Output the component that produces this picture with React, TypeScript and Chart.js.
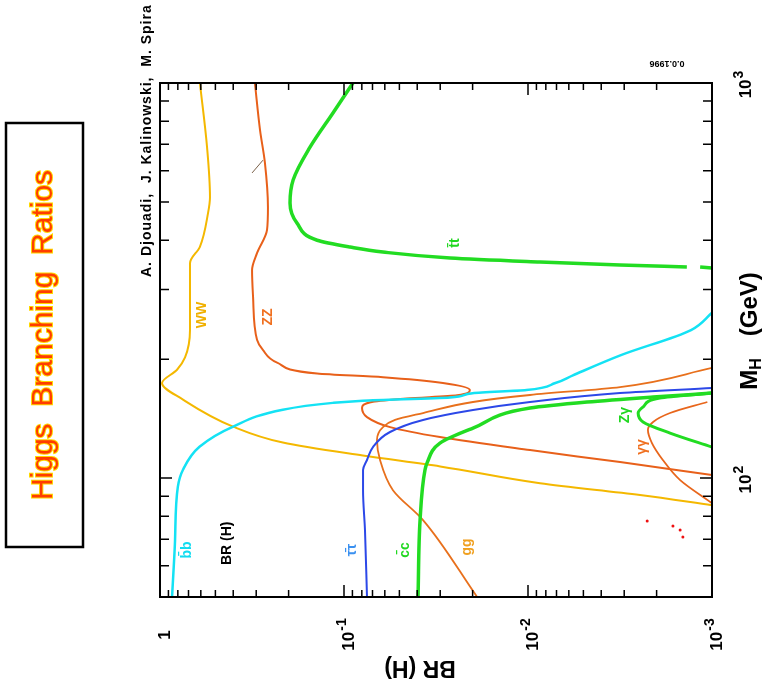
import React, { useEffect, useRef } from 'react';
import { Chart, registerables } from 'chart.js';
Chart.register(...registerables);

// ---- data (BR value, Higgs mass in GeV) ----
const BB_BR = [0.86, 0.83, 0.80, 0.75, 0.61, 0.40, 0.215, 0.115, 0.079, 0.0265, 0.020, 0.0102, 0.0071, 0.0057, 0.0031, 0.0013, 0.001];
const BB_MH = [50, 68, 95, 105, 120, 135, 149, 155, 157, 160, 164, 167, 174, 182, 205, 237, 262];

const WW_BR = [0.607, 0.555, 0.535, 0.548, 0.607, 0.687, 0.687, 0.731, 0.808, 0.975, 0.75, 0.401, 0.215, 0.079, 0.030, 0.0086, 0.00246, 0.001];
const WW_MH = [1000, 688, 514, 469, 385, 350, 237, 202, 188, 174, 158, 135, 123, 114, 107, 97, 90.6, 85.4];

const ZZ_BR = [0.305, 0.286, 0.269, 0.259, 0.262, 0.297, 0.316, 0.312, 0.297, 0.276, 0.231, 0.140, 0.0614, 0.029, 0.0207, 0.0243, 0.0455, 0.0696, 0.0798, 0.075, 0.0562, 0.0301, 0.00975, 0.00316, 0.001];
const ZZ_MH = [1000, 760, 628, 485, 425, 371, 336, 287, 224, 211, 196, 184, 180, 174, 167, 162, 159, 156, 150.4, 142.7, 134.6, 127, 117.7, 109.8, 101.8];

const GG_BR = [0.0189, 0.0372, 0.0542, 0.0637, 0.0662, 0.0614, 0.0528, 0.0372, 0.0199, 0.00975, 0.00316, 0.001];
const GG_MH = [50, 78.3, 93.2, 111.1, 124.8, 134.6, 140.3, 146.1, 155.8, 162.3, 170, 190];

const TAU_BR = [0.075, 0.0769, 0.0788, 0.0788, 0.075, 0.0696, 0.0562, 0.0372, 0.0199, 0.00975, 0.00316, 0.001];
const TAU_MH = [50, 73.8, 93.2, 104.8, 111.1, 119.8, 130.8, 140.3, 148.7, 155.8, 164.1, 169];

const CC_BR = [0.0396, 0.0386, 0.0363, 0.0354, 0.0301, 0.0199, 0.00975, 0.00478, 0.00209, 0.001];
const CC_MH = [50, 78.3, 104.8, 109.1, 122.6, 133.8, 150.4, 155.8, 160.4, 164.1];

const ZGAM_BR = [0.001, 0.00169, 0.00237, 0.00252, 0.00237, 0.00192, 0.001];
const ZGAM_MH = [119.8, 130, 138.7, 146.1, 151.3, 159.4, 164.1];

const GAMGAM_BR = [0.001, 0.00149, 0.00185, 0.00212, 0.00223, 0.00209, 0.00169, 0.00106];
const GAMGAM_MH = [86.4, 98.8, 111.1, 122.6, 132.3, 138.7, 146.1, 155.8];

const TT_BR = [0.0894, 0.1148, 0.153, 0.189, 0.1965, 0.18, 0.140, 0.0928, 0.0614, 0.0265, 0.0086, 0.00316, 0.00137];
const TT_MH = [1000, 840, 688, 568, 497, 442, 400, 384.5, 373.4, 360.6, 352.3, 346.2, 342.2];
const TT_TAIL_BR = [0.00116, 0.001];
const TT_TAIL_MH = [342.2, 340.2];

const MARK_BR = [0.316, 0.2755];
const MARK_MH = [592, 638];

const SPECK_BR = [0.00225, 0.00163, 0.00149, 0.00144];
const SPECK_MH = [77.9, 75.6, 73.9, 70.9];

// curve labels
const LABEL_TEXT = ['b\u0304b', 'BR (H)', '\u03c4\u0304\u03c4', 'c\u0304c', 'gg', 'Z\u03b3', '\u03b3\u03b3', 'WW', 'ZZ', 't\u0304t'];
const LABEL_BR = [0.713, 0.432, 0.0905, 0.0466, 0.0215, 0.00297, 0.0024, 0.591, 0.259, 0.0249];
const LABEL_MH = [65.8, 68.4, 65.8, 65.8, 66.9, 144.3, 119.8, 258.8, 255.8, 393.6];
const LABEL_COLOR = ['#10dcf0', '#000000', '#3a90f0', '#20d820', '#f0a020', '#20d820', '#f07020', '#f0b000', '#f07020', '#20d820'];

// axes
const BR_MIN = 0.001;
const BR_MAX = 1;
const MH_MIN = 50;
const MH_MAX = 1000;
const BR_TICKS = [1, 0.1, 0.01, 0.001];
const BR_TICK_EXP = ['', '-1', '-2', '-3'];
const MH_TICKS = [100, 1000];
const MH_TICK_EXP = ['2', '3'];

const TITLE = 'Higgs  Branching  Ratios';
const AUTHORS = 'A. Djouadi,  J. Kalinowski,  M. Spira';
const DATE = '0.0.1996';

const FONT = '"Liberation Sans", Arial, Helvetica, sans-serif';

function zip(br: number[], mh: number[]) {
  return br.map((b, i) => ({ x: b, y: mh[i] }));
}

function line(label: string, br: number[], mh: number[], color: string, width: number) {
  return {
    label,
    data: zip(br, mh),
    showLine: true,
    indexAxis: 'y',
    borderColor: color,
    backgroundColor: color,
    borderWidth: width,
    pointRadius: 0,
    cubicInterpolationMode: 'monotone',
    fill: false,
  };
}

function rotText(ctx: CanvasRenderingContext2D, text: string, x: number, y: number, angle: number, font: string, color: string, align: CanvasTextAlign = 'center') {
  ctx.save();
  ctx.translate(x, y);
  ctx.rotate(angle);
  ctx.font = font;
  ctx.fillStyle = color;
  ctx.textAlign = align;
  ctx.textBaseline = 'middle';
  ctx.fillText(text, 0, 0);
  ctx.restore();
}

function powLabel(ctx: CanvasRenderingContext2D, exp: string, x: number, y: number, size: number) {
  ctx.save();
  ctx.translate(x, y);
  ctx.rotate(-Math.PI / 2);
  ctx.fillStyle = '#000';
  ctx.textBaseline = 'middle';
  ctx.textAlign = 'left';
  const bigFont = `bold ${size}px ${FONT}`;
  const smallFont = `bold ${Math.round(size * 0.8)}px ${FONT}`;
  if (!exp) {
    ctx.font = bigFont;
    const w = ctx.measureText('1').width;
    ctx.fillText('1', -w / 2, 0);
  } else {
    ctx.font = bigFont;
    const w1 = ctx.measureText('10').width;
    ctx.font = smallFont;
    const w2 = ctx.measureText(exp).width;
    const start = -(w1 + w2) / 2;
    ctx.font = bigFont;
    ctx.fillText('10', start, 0);
    ctx.font = smallFont;
    ctx.fillText(exp, start + w1 + 1, -size * 0.4);
  }
  ctx.restore();
}

const decorPlugin = {
  id: 'decor',
  beforeDraw(chart: any) {
    const ctx = chart.ctx as CanvasRenderingContext2D;
    ctx.save();
    ctx.fillStyle = '#ffffff';
    ctx.fillRect(0, 0, chart.width, chart.height);
    ctx.restore();
  },
  afterDraw(chart: any) {
    const ctx = chart.ctx as CanvasRenderingContext2D;
    const { left, right, top, bottom } = chart.chartArea;
    const xs = chart.scales.x;
    const ys = chart.scales.y;

    // curve labels
    LABEL_TEXT.forEach((t, i) => {
      const px = xs.getPixelForValue(LABEL_BR[i]);
      const py = ys.getPixelForValue(LABEL_MH[i]);
      rotText(ctx, t, px, py, -Math.PI / 2, `bold 14px ${FONT}`, LABEL_COLOR[i]);
    });

    // frame
    ctx.save();
    ctx.strokeStyle = '#000';
    ctx.lineWidth = 2;
    ctx.strokeRect(left, top, right - left, bottom - top);

    // BR ticks (top and bottom, inward)
    ctx.lineWidth = 1.5;
    for (let e = 0; e >= -3; e--) {
      for (let m = 1; m <= 9; m++) {
        const v = m * Math.pow(10, e);
        if (v > BR_MAX * 1.0001 || v < BR_MIN * 0.9999) continue;
        const px = xs.getPixelForValue(v);
        const len = m === 1 ? 12 : 7;
        ctx.beginPath();
        ctx.moveTo(px, bottom);
        ctx.lineTo(px, bottom - len);
        ctx.moveTo(px, top);
        ctx.lineTo(px, top + len);
        ctx.stroke();
      }
    }
    // MH ticks (left and right, inward)
    for (let e = 1; e <= 2; e++) {
      for (let m = 1; m <= 9; m++) {
        const v = m * Math.pow(10, e);
        if (v > MH_MAX * 1.0001 || v < MH_MIN * 1.0001) continue;
        const py = ys.getPixelForValue(v);
        const len = m === 1 ? 12 : 9;
        ctx.beginPath();
        ctx.moveTo(left, py);
        ctx.lineTo(left + len, py);
        ctx.moveTo(right, py);
        ctx.lineTo(right - len, py);
        ctx.stroke();
      }
    }
    ctx.restore();

    // tick labels
    BR_TICKS.forEach((v, i) => {
      powLabel(ctx, BR_TICK_EXP[i], xs.getPixelForValue(v) + 5, bottom + 38, 17);
    });
    MH_TICKS.forEach((v, i) => {
      powLabel(ctx, MH_TICK_EXP[i], right + 34, ys.getPixelForValue(v) + 2, 17);
    });

    // axis title BR (H), upside down
    rotText(ctx, 'BR (H)', (left + right) / 2 - 16, bottom + 70, Math.PI, `bold 23px ${FONT}`, '#000');

    // M_H (GeV)
    ctx.save();
    ctx.translate(right + 38, (top + bottom) / 2 - 9);
    ctx.rotate(-Math.PI / 2);
    ctx.fillStyle = '#000';
    ctx.textBaseline = 'middle';
    ctx.textAlign = 'left';
    const f1 = `bold 24px ${FONT}`;
    const f2 = `bold 16px ${FONT}`;
    const gap = 22;
    ctx.font = f1;
    const wM = ctx.measureText('M').width;
    const wRest = ctx.measureText('(GeV)').width;
    ctx.font = f2;
    const wH = ctx.measureText('H').width;
    const start = -(wM + wH + gap + wRest) / 2;
    ctx.font = f1;
    ctx.fillText('M', start, 0);
    ctx.font = f2;
    ctx.fillText('H', start + wM, 7);
    ctx.font = f1;
    ctx.fillText('(GeV)', start + wM + wH + gap, 0);
    ctx.restore();

    // title box
    ctx.save();
    ctx.strokeStyle = '#000';
    ctx.lineWidth = 2.5;
    ctx.strokeRect(6, 123, 77, 424);
    ctx.translate(44, 335);
    ctx.rotate(-Math.PI / 2);
    ctx.font = `30px ${FONT}`;
    ctx.textAlign = 'center';
    ctx.textBaseline = 'middle';
    ctx.lineWidth = 2;
    ctx.strokeStyle = '#ffd800';
    ctx.strokeText(TITLE, 0, 0);
    ctx.fillStyle = '#ff3c00';
    ctx.fillText(TITLE, 0, 0);
    ctx.restore();

    // authors
    ctx.save();
    ctx.translate(147, 277);
    ctx.rotate(-Math.PI / 2);
    ctx.font = `bold 14px ${FONT}`;
    (ctx as any).letterSpacing = '1px';
    ctx.textAlign = 'left';
    ctx.textBaseline = 'middle';
    ctx.fillStyle = '#000';
    ctx.fillText(AUTHORS, 0, 0);
    ctx.restore();

    // date stamp (upside down)
    rotText(ctx, DATE, 667, 63, Math.PI, `bold 9px ${FONT}`, '#000');
  },
};

export default function App() {
  const ref = useRef<HTMLCanvasElement | null>(null);
  useEffect(() => {
    if (!ref.current) return;
    const chart = new Chart(ref.current, {
      type: 'scatter',
      data: {
        datasets: [
          line('bb', BB_BR, BB_MH, '#14e2f4', 2.5),
          line('tautau', TAU_BR, TAU_MH, '#2c48e8', 2),
          line('cc', CC_BR, CC_MH, '#22dc22', 3.5),
          line('Zgamma', ZGAM_BR, ZGAM_MH, '#22dc22', 3),
          line('gammagamma', GAMGAM_BR, GAMGAM_MH, '#e8661c', 1.8),
          line('gg', GG_BR, GG_MH, '#e8701c', 1.8),
          line('ZZ', ZZ_BR, ZZ_MH, '#e8601a', 2),
          line('WW', WW_BR, WW_MH, '#f4b800', 2),
          line('tt', TT_BR, TT_MH, '#22dc22', 3.5),
          line('tt-tail', TT_TAIL_BR, TT_TAIL_MH, '#22dc22', 3.5),
          line('mark', MARK_BR, MARK_MH, '#7a6048', 1),
          {
            label: 'specks',
            data: zip(SPECK_BR, SPECK_MH),
            showLine: false,
            pointRadius: 1.5,
            pointBackgroundColor: '#ee1010',
            pointBorderWidth: 0,
          },
        ],
      },
      options: {
        responsive: false,
        animation: false,
        indexAxis: 'y',
        layout: { padding: { left: 160, right: 60, top: 83, bottom: 95 } },
        plugins: { legend: { display: false }, tooltip: { enabled: false } },
        scales: {
          x: { type: 'logarithmic', reverse: true, min: BR_MIN, max: BR_MAX, display: false },
          y: { type: 'logarithmic', min: MH_MIN, max: MH_MAX, display: false },
        },
      },
      plugins: [decorPlugin],
    } as any);
    return () => chart.destroy();
  }, []);
  return (
    <div style={{ position: 'absolute', left: 0, top: 0, width: 772, height: 692, background: '#fff' }}>
      <canvas ref={ref} width={772} height={692} style={{ display: 'block', width: 772, height: 692 }} />
    </div>
  );
}
